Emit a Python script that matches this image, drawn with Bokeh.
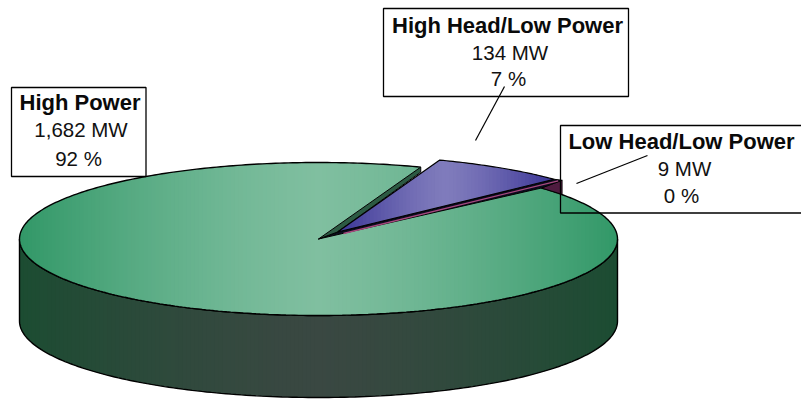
import numpy as np
from bokeh.plotting import figure
from bokeh.embed import file_html
from bokeh.resources import INLINE
from bokeh.core.properties import value

names = ["High Power", "High Head/Low Power", "Low Head/Low Power"]
mw_labels = ["1,682 MW", "134 MW", "9 MW"]
pct_labels = ["92 %", "7 %", "0 %"]
mw = [1682, 134, 9]
first_angle = 70.0  # degrees, where the first slice begins (counter-clockwise)

CX, CY, RX, RY, DEPTH = 318.0, 238.5, 299.0, 76.5, 82.0
FONT = value("Liberation Sans")

p = figure(width=801, height=406, x_range=(0, 801), y_range=(406, 0),
           output_backend="svg", toolbar_location=None, min_border=0)
p.axis.visible = False
p.grid.visible = False
p.outline_line_color = None


def lerp(a, b, t):
    return tuple(int(round(a[i] + (b[i] - a[i]) * t)) for i in range(3))


def hexc(c):
    return "#%02x%02x%02x" % c


def grad(x, x0, x1, edge, mid):
    t = 1 - min(1, abs((x - (x0 + x1) / 2) / ((x1 - x0) / 2)))
    t = 0.5 * t + 0.5 * np.sin(t * np.pi / 2)  # rounds the crest of the ramp
    return hexc(lerp(edge, mid, t))


def ell(a, ox=0.0, oy=0.0):
    a = np.radians(a)
    return CX + ox + RX * np.cos(a), CY + oy - RY * np.sin(a)


def clip_poly(px, py, a, b):
    pts = list(zip(px, py))

    def clip(pts, inside, inter):
        out = []
        for i in range(len(pts)):
            c, d = pts[i], pts[(i + 1) % len(pts)]
            if inside(c):
                out.append(c)
                if not inside(d):
                    out.append(inter(c, d))
            elif inside(d):
                out.append(inter(c, d))
        return out

    def ix(v):
        return lambda c, d: (v, c[1] + (d[1] - c[1]) * (v - c[0]) / (d[0] - c[0]))

    pts = clip(pts, lambda q: q[0] >= a, ix(a))
    if pts:
        pts = clip(pts, lambda q: q[0] <= b, ix(b))
    if len(pts) < 3:
        return []
    return [([q[0] for q in pts], [q[1] for q in pts])]


def clip_strips(px, py, x0, x1, edge, mid, n=150):
    """Fill a polygon with a horizontal gradient, as vertical strips clipped by it."""
    xs, ys, cs = [], [], []
    edges = np.linspace(x0, x1, n + 1)
    for a, b in zip(edges[:-1], edges[1:]):
        for sx, sy in clip_poly(px, py, a, b + 1.0):
            xs.append(sx)
            ys.append(sy)
            cs.append(grad((a + b) / 2, x0, x1, edge, mid))
    p.patches(xs, ys, fill_color=cs, line_color=None)


total = sum(mw)
sweeps = [v / total * 360 for v in mw]
a_g0 = first_angle
a_g1 = a_g0 + sweeps[0]          # green end
a_red1 = a_g1 + sweeps[2]        # red sits next to green
a_blue1 = a_red1 + sweeps[1]     # blue closes the circle

# side wall of the disc
t = np.linspace(180, 360, 181)
ux, uy = ell(t)
lx, ly = ell(t[::-1], 0, DEPTH)
wx = np.r_[ux, lx]
wy = np.r_[uy, ly]
clip_strips(wx, wy, CX - RX, CX + RX, (28, 76, 50), (58, 72, 66))
p.line(np.r_[ux, lx, ux[0]], np.r_[uy, ly, uy[0]], line_color="black", line_width=1.4)

# green slice, top face
tg = np.linspace(a_g0, a_g1, 400)
gx, gy = ell(tg)
px_g = np.r_[CX, gx]
py_g = np.r_[CY, gy]
clip_strips(px_g, py_g, CX - RX, CX + RX, (50, 152, 104), (128, 191, 160))
p.line(gx, gy, line_color="black", line_width=1.4)

# exploded slices
rox, roy = 19.0, -7.0
ex, ey = ell(a_g0)
ox_, oy_ = CX + rox, CY + roy

# red wall at the rim
rtx, rty = ell(a_red1, rox + 8, roy + 1)
p.patch([gx[-1], rtx, rtx], [gy[-1], rty, rty + 14],
        fill_color="#4e1b3f", line_color="black", line_width=0.8)

# dark band between the blue slice and the green cut
bx0, by0 = ell(a_red1, rox, roy)
p.patch([CX, ox_, bx0, rtx, gx[-1]], [CY, oy_, by0, rty, gy[-1]],
        fill_color="#0c0c1e", line_color="black", line_width=1.0)
p.line([ox_ + 6, rtx - 4], [oy_ + 1.5, rty + 0.5], line_color="#a8487f", line_width=1.3)

# green cut wall seen beside the blue slice
p.patch([CX, ex, ex, ox_], [CY, ey, ey + 5, oy_],
        fill_color="#2c5a43", line_color="black", line_width=1.0)

# blue slice
tb = np.linspace(a_red1, a_blue1, 40)
bx, by = ell(tb, rox, roy)
px_b = np.r_[ox_, bx]
py_b = np.r_[oy_, by]
clip_strips(px_b, py_b, ox_, bx.max(), (58, 52, 150), (128, 124, 188), n=60)
p.line(np.r_[px_b, px_b[0]], np.r_[py_b, py_b[0]], line_color="black", line_width=1.2)

# labels
boxes = [(11, 145.5, 87, 176), (383, 628, 8, 96), (560, 804, 125, 212.5)]
text_x = [(79.5, 80.5, 78), (507, 509.5, 508), (681, 684, 681)]
text_y = [(102, 128.5, 158), (24.5, 52, 78), (141, 167.5, 195)]
leaders = [([475, 504], [140, 86]), ([576, 647], [183, 155])]
for lx_, ly_ in leaders:
    p.line(lx_, ly_, line_color="black", line_width=1.2)
for (l, r, t_, b), tx, ty, n_, m_, c_ in zip(boxes, text_x, text_y, names, mw_labels, pct_labels):
    p.quad(left=l, right=r, top=t_, bottom=b, fill_alpha=0, line_color="black", line_width=1.3)
    p.text([tx[0]], [ty[0]], text=[n_], text_font=FONT, text_font_style="bold", text_font_size="22px",
           text_align="center", text_baseline="middle", text_color="#0a0a0a")
    p.text([tx[1]], [ty[1]], text=[m_], text_font=FONT, text_font_size="20.5px",
           text_align="center", text_baseline="middle", text_color="#111111")
    p.text([tx[2]], [ty[2]], text=[c_], text_font=FONT, text_font_size="20.5px",
           text_align="center", text_baseline="middle", text_color="#111111")

open("out.html", "w").write(file_html(p, INLINE))
